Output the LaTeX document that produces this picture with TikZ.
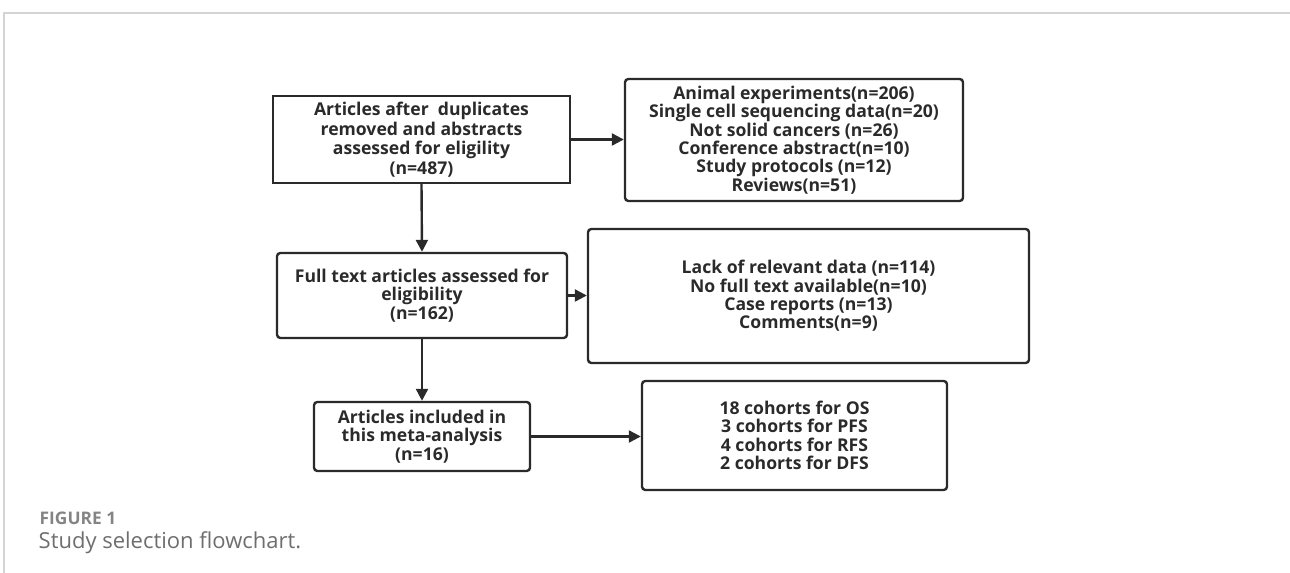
\documentclass[tikz,border=0pt]{standalone}
\usepackage{fontspec}
\setmainfont{Open Sans}
\usepackage{xcolor}
\usetikzlibrary{arrows.meta,positioning,calc}
\definecolor{ink}{HTML}{2A2A2A}
\definecolor{framegray}{HTML}{D4D4D4}
\definecolor{capgray}{HTML}{6E6E6E}

\begin{document}
\begin{tikzpicture}[x=0.75pt,y=-0.75pt,>={Triangle[length=9pt,width=9pt]},
  box/.style={draw=ink,line width=1.8pt,rounded corners=2.5pt,align=center,inner sep=2pt,
    text=ink,font=\fontsize{13.2}{13.8}\selectfont\bfseries},
  flow/.style={->,draw=ink,line width=1.8pt}]
\useasboundingbox (0,0) rectangle (1290,573);
% outer frame of the figure
\draw[framegray,line width=1pt] (4,573) -- (4,13) -- (1290,13);
% main column
\node[box,rounded corners=0pt,font=\fontsize{13.2}{14.7}\selectfont\bfseries,
  minimum width=222.75pt,minimum height=65.25pt] (found) at (421.5,139.5)
  {Articles after\ \ duplicates\\removed and abstracts\\assessed for eligility\\(n=487)};
\node[box,minimum width=217.5pt,minimum height=63.75pt] (full) at (422,295.5)
  {Full text articles assessed for\\eligibility\\(n=162)};
\node[box,minimum width=162pt,minimum height=51.75pt] (incl) at (422,436.5)
  {Articles included in\\this meta-analysis\\(n=16)};
% exclusions and outcomes
\node[box,minimum width=253.5pt,minimum height=91.5pt] (excl1) at (794,140)
  {Animal experiments(n=206)\\Single cell sequencing data(n=20)\\Not solid cancers (n=26)\\Conference abstract(n=10)\\Study protocols (n=12)\\Reviews(n=51)};
\node[box,minimum width=330.75pt,minimum height=100.5pt] (excl2) at (808.5,296)
  {Lack of relevant data (n=114)\\No full text available(n=10)\\Case reports (n=13)\\Comments(n=9)};
\node[box,minimum width=228.75pt,minimum height=81.75pt] (cohort) at (794.5,435.5)
  {18 cohorts for OS\\3 cohorts for PFS\\4 cohorts for RFS\\2 cohorts for DFS};
% connectors
\draw[flow] (found.south) -- (full.north);
\draw[flow] (full.south) -- (incl.north);
\draw[flow] (found.east) -- (found.east -| excl1.west);
\draw[flow] (full.east) -- (full.east -| excl2.west);
\draw[flow] (incl.east) -- (incl.east -| cohort.west);
% caption
\node[anchor=west,text=capgray!85,font=\fontsize{13}{15}\selectfont\bfseries] (figno) at (35,518) {FIGURE 1};
\node[anchor=west,text=capgray,font=\fontsize{16.5}{18}\selectfont] (figcap) at (34,543) {Study selection flowchart.};
\end{tikzpicture}
\end{document}
